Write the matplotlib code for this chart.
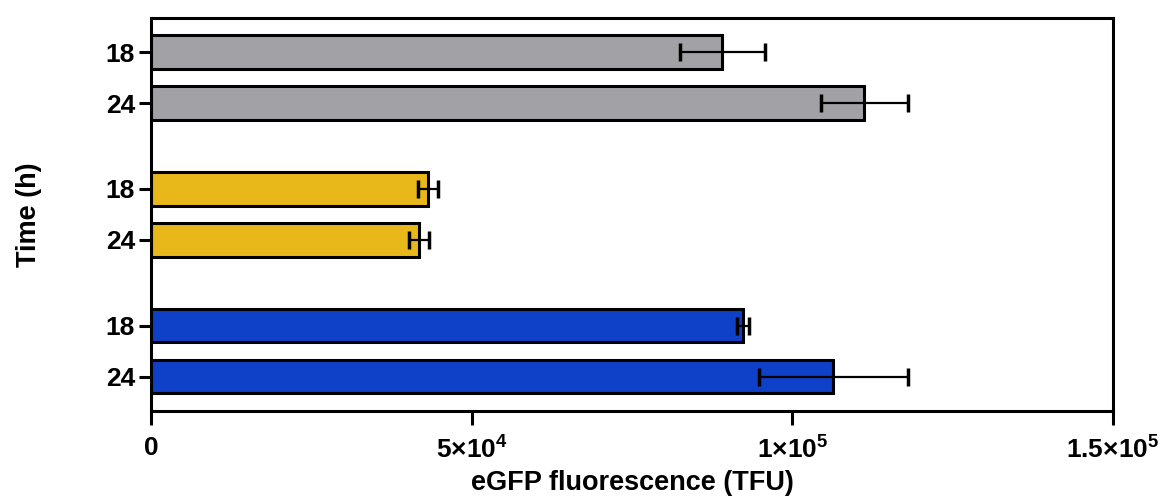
import matplotlib
matplotlib.use("Agg")
import matplotlib.pyplot as plt
import numpy as np

plt.rcParams['font.family'] = ['Liberation Sans', 'DejaVu Sans']
plt.rcParams['mathtext.fontset'] = 'custom'
plt.rcParams['mathtext.rm'] = 'Liberation Sans:bold'
plt.rcParams['mathtext.bf'] = 'Liberation Sans:bold'
plt.rcParams['mathtext.it'] = 'Liberation Sans:bold'

# Data (top to bottom)
time_labels = ["18", "24", "18", "24", "18", "24"]
means = [89.1e3, 111.2e3, 43.2e3, 41.8e3, 92.3e3, 106.4e3]
sds = [6.6e3, 6.8e3, 1.6e3, 1.5e3, 1.0e3, 11.6e3]
colors = ["#A2A1A6", "#A2A1A6", "#E8B81A", "#E8B81A", "#0E40C8", "#0E40C8"]
positions = [0, 1, 2.686, 3.686, 5.37, 6.37]
xticks = [0, 5e4, 1e5, 1.5e5]
xtick_labels = ["0", r"$5{\times}10^{4}$", r"$1{\times}10^{5}$", r"$1.5{\times}10^{5}$"]

fig = plt.figure(figsize=(11.63, 4.97), dpi=100)
ax = fig.add_axes([0.1298, 0.173, 0.957 - 0.1298, 0.9638 - 0.173])

ax.barh(positions, means, height=0.65, color=colors, edgecolor="black", linewidth=2.2, zorder=2)
ax.errorbar(means, positions, xerr=sds, fmt="none", ecolor="black", elinewidth=1.6,
            capsize=6.5, capthick=2.5, zorder=3)

ax.set_xlim(0, 1.5e5)
ax.set_ylim(7.04, -0.667)
ax.set_yticks(positions)
ax.set_yticklabels(time_labels, fontsize=19, fontweight="bold")
ax.set_xticks(xticks)
ax.set_xticklabels(xtick_labels, fontsize=19, fontweight="bold")

for s in ax.spines.values():
    s.set_linewidth(2.2)
ax.tick_params(axis="both", width=2.2, length=8.5, pad=3)
ax.tick_params(axis="x", length=10, pad=8)

ax.set_xlabel("eGFP fluorescence (TFU)", fontsize=19.5, fontweight="bold", labelpad=5)
ax.set_ylabel("Time (h)", fontsize=19.5, fontweight="bold", labelpad=46)

fig.savefig("out.png", dpi=100)
